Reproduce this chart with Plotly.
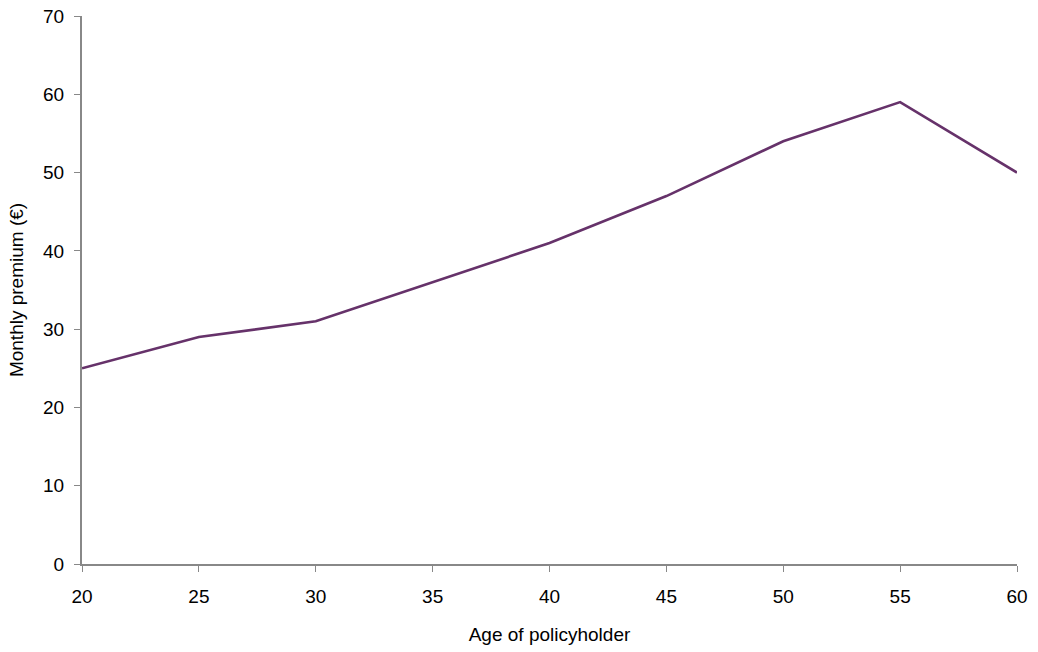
import plotly.graph_objects as go

ages = [20, 25, 30, 35, 40, 45, 50, 55, 60]
premium = [25, 29, 31, 36, 41, 47, 54, 59, 50]
x_ticks = [20, 25, 30, 35, 40, 45, 50, 55, 60]
y_ticks = [0, 10, 20, 30, 40, 50, 60, 70]

fig = go.Figure()
fig.add_trace(go.Scatter(
    x=ages, y=premium, mode="lines",
    line=dict(color="#66326A", width=2.6),
    showlegend=False,
))

axis_common = dict(
    showline=True, linecolor="#888888", linewidth=2,
    ticks="outside", tickcolor="#888888", ticklen=6, tickwidth=1,
    showgrid=False, zeroline=False, automargin=False,
    tickfont=dict(family="Liberation Sans, Arial", size=19, color="#000000"),
)

fig.update_layout(
    width=1038, height=652,
    margin=dict(l=82, r=21, t=16, b=88),
    paper_bgcolor="white", plot_bgcolor="white",
    font=dict(family="Liberation Sans, Arial", size=19, color="#000000"),
    xaxis=dict(
        range=[20, 60], tickvals=x_ticks,
        title=dict(text="Age of policyholder", font=dict(size=19), standoff=22),
        ticklabelstandoff=8,
        **axis_common,
    ),
    yaxis=dict(
        range=[0, 70], tickvals=y_ticks,
        title=dict(text="Monthly premium (€)", font=dict(size=19), standoff=14),
        ticklabelstandoff=6,
        **axis_common,
    ),
)

fig.write_html(
    "out.html",
    config={"displayModeBar": False},
    post_script="document.body.style.margin='0';document.body.style.overflow='hidden';",
)
